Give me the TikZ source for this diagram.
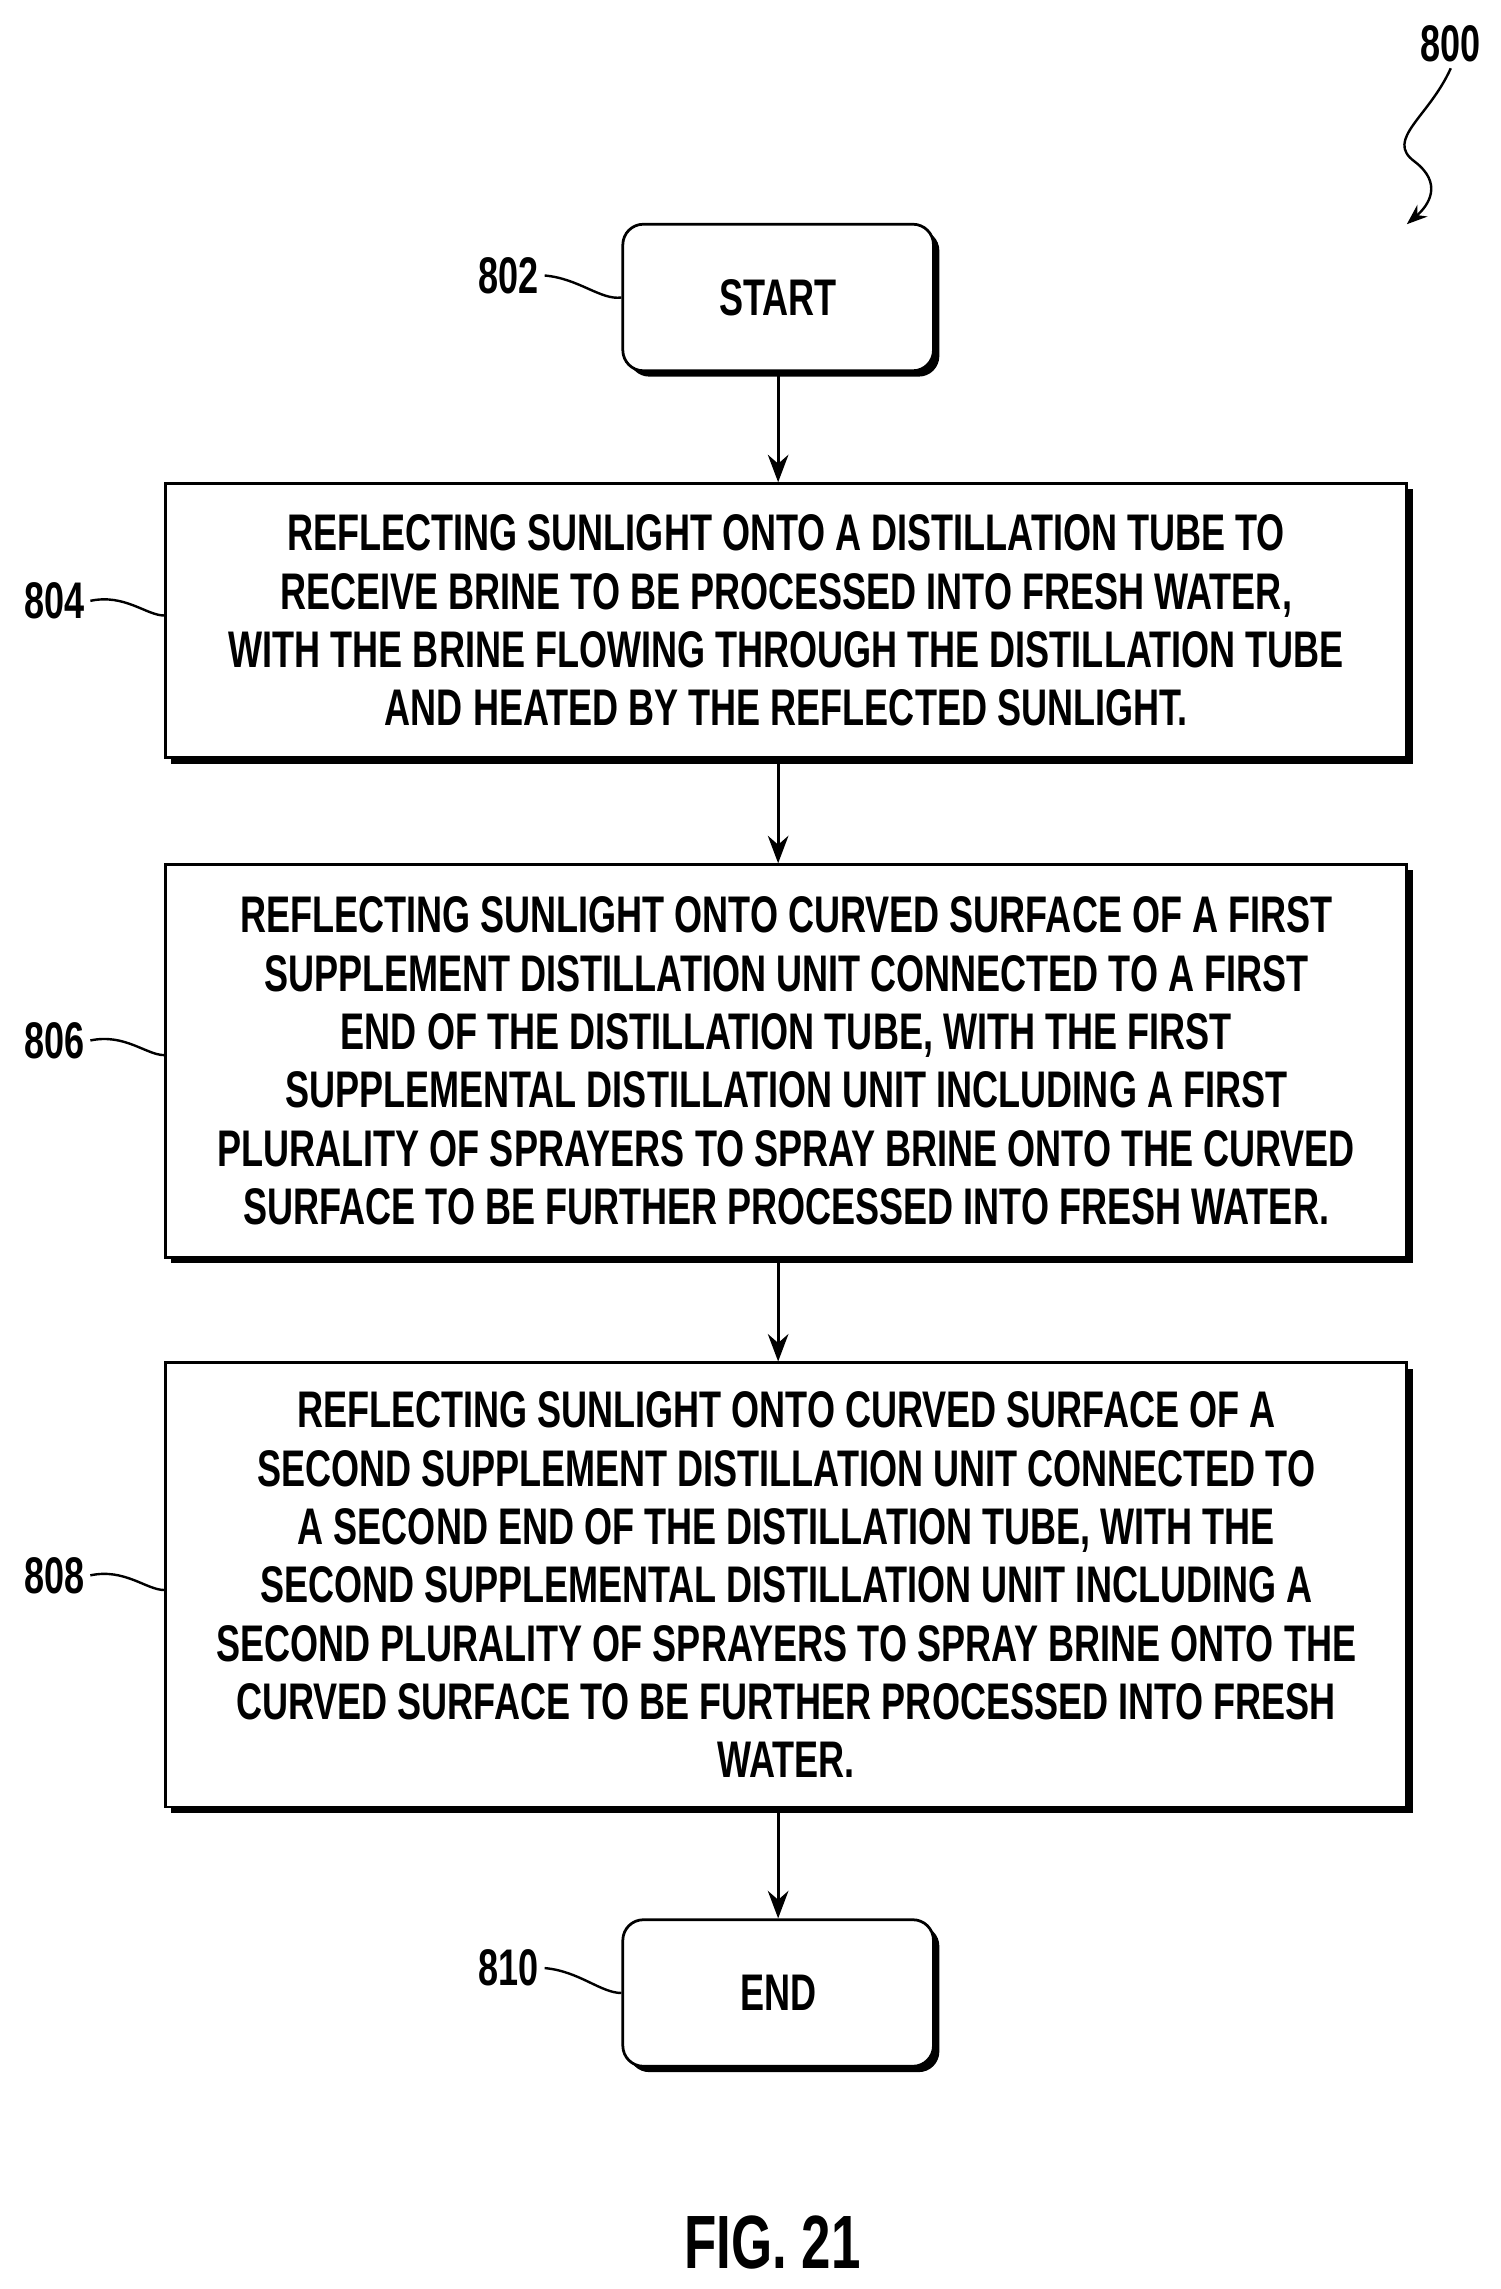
\documentclass[tikz,border=0pt]{standalone}
\usepackage{fontspec}
\setmainfont{Liberation Sans}[FakeStretch=0.7]
\usetikzlibrary{arrows.meta}
\begin{document}
\begin{tikzpicture}[x=0.3mm,y=-0.3mm,
  every node/.style={font=\fontsize{30}{34}\selectfont\bfseries},
  box/.style={draw,line width=1.6pt,fill=white,align=center,inner sep=0pt},
  arr/.style={-{Stealth[length=16pt,width=12pt]},line width=1.6pt},
  lead/.style={line width=1.4pt}]
\useasboundingbox (0,0) rectangle (1024,1562);
% shadows
\fill[rounded corners=12pt] (429,157) rectangle (641,257);
\fill (117,334) rectangle (964,521);
\fill (117,594) rectangle (964,862);
\fill (117,934) rectangle (964,1237);
\fill[rounded corners=12pt] (429,1314) rectangle (641,1414);
% boxes
\node[box,rounded corners=12pt,minimum width=63.6mm,minimum height=30mm] (s) at (531,203) {START};
\node[box,minimum width=254.1mm,minimum height=56.1mm] (b1) at (536.5,423.5) {REFLECTING SUNLIGHT ONTO A DISTILLATION TUBE TO\\RECEIVE BRINE TO BE PROCESSED INTO FRESH WATER,\\WITH THE BRINE FLOWING THROUGH THE DISTILLATION TUBE\\AND HEATED BY THE REFLECTED SUNLIGHT.};
\node[box,minimum width=254.1mm,minimum height=80.4mm] (b2) at (536.5,724) {REFLECTING SUNLIGHT ONTO CURVED SURFACE OF A FIRST\\SUPPLEMENT DISTILLATION UNIT CONNECTED TO A FIRST\\END OF THE DISTILLATION TUBE, WITH THE FIRST\\SUPPLEMENTAL DISTILLATION UNIT INCLUDING A FIRST\\PLURALITY OF SPRAYERS TO SPRAY BRINE ONTO THE CURVED\\SURFACE TO BE FURTHER PROCESSED INTO FRESH WATER.};
\node[box,minimum width=254.1mm,minimum height=90.9mm] (b3) at (536.5,1081.5) {REFLECTING SUNLIGHT ONTO CURVED SURFACE OF A\\SECOND SUPPLEMENT DISTILLATION UNIT CONNECTED TO\\A SECOND END OF THE DISTILLATION TUBE, WITH THE\\SECOND SUPPLEMENTAL DISTILLATION UNIT INCLUDING A\\SECOND PLURALITY OF SPRAYERS TO SPRAY BRINE ONTO THE\\CURVED SURFACE TO BE FURTHER PROCESSED INTO FRESH\\WATER.};
\node[box,rounded corners=12pt,minimum width=63.6mm,minimum height=30mm] (e) at (531,1360) {END};
\draw[arr] (s.south) -- (b1.north -| s.south);
\draw[arr] (b1.south -| s.south) -- (b2.north -| s.south);
\draw[arr] (b2.south -| s.south) -- (b3.north -| s.south);
\draw[arr] (b3.south -| s.south) -- (e.north);
% labels
\node (l802) at (347,188) {802};
\node (l804) at (37,410) {804};
\node (l806) at (37,710) {806};
\node (l808) at (37,1075) {808};
\node (l810) at (347,1343) {810};
\node (l800) at (990,30) {800};
\draw[lead] (l802.east) .. controls (395,190) and (410,205) .. (s.west);
\draw[lead] (l804.east) .. controls (85,405) and (100,420) .. (b1.west |- 0,420);
\draw[lead] (l806.east) .. controls (85,705) and (100,720) .. (b2.west |- 0,720);
\draw[lead] (l808.east) .. controls (85,1070) and (100,1085) .. (b3.west |- 0,1085);
\draw[lead] (l810.east) .. controls (395,1345) and (410,1360) .. (e.west);
\coordinate (t800) at (960,153);
\draw[lead,-{Stealth[length=12pt,width=9pt]}] (l800.south) .. controls (975,80) and (945,95) .. (965,110) .. controls (985,125) and (975,140) .. (t800);
\node (fig) at (527,1530) {\fontsize{44}{48}\selectfont FIG. 21};
\end{tikzpicture}
\end{document}
